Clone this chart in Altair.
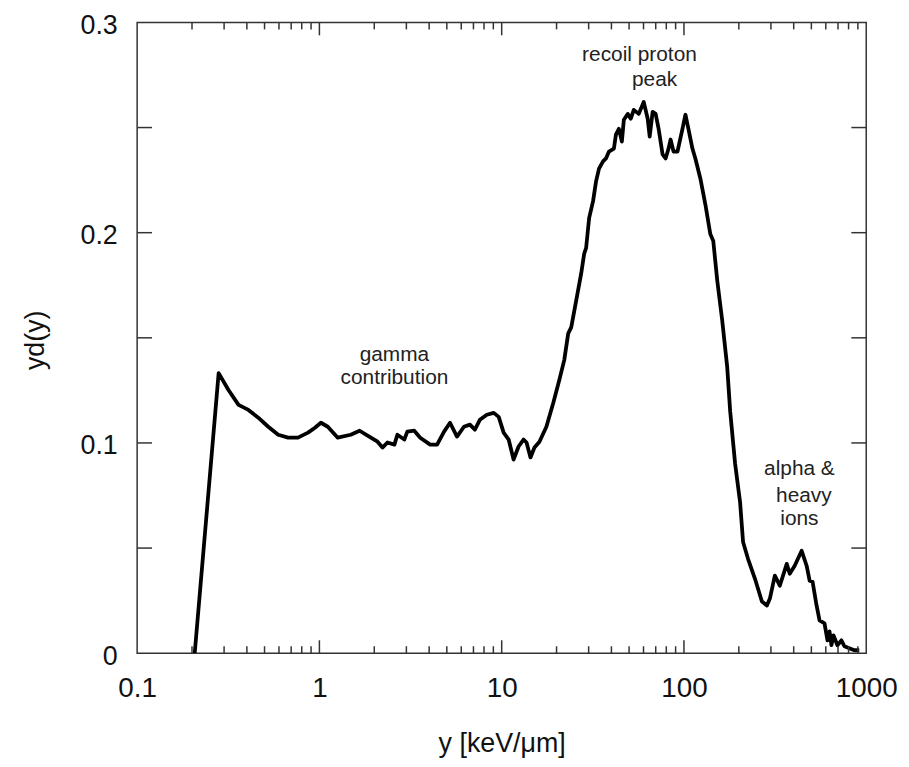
import altair as alt
import pandas as pd

# lineal energy y [keV/um]
y_lineal = [
    0.207, 0.280, 0.317, 0.360, 0.408, 0.462, 0.524, 0.594, 0.673, 0.763,
    0.866, 0.945, 1.019, 1.112, 1.261, 1.485, 1.662, 1.838, 2.084, 2.218,
    2.362, 2.579, 2.678, 2.923, 3.036, 3.314, 3.573, 4.052, 4.424, 4.829,
    5.207, 5.686, 6.209, 6.694, 7.128, 7.590, 8.287, 9.046, 9.632, 10.25,
    10.92, 11.62, 12.38, 13.18, 13.69, 14.39, 15.13, 16.11, 17.59, 19.20,
    20.71, 22.04, 23.18, 24.07, 25.63, 27.29, 28.34, 29.06, 30.18, 31.72,
    32.94, 34.20, 35.96, 37.34, 38.77, 41.28, 42.33, 43.96, 45.64, 46.80,
    49.21, 51.09, 53.05, 56.49, 60.15, 63.25, 64.86, 67.34, 69.93, 72.61,
    76.35, 79.29, 82.32, 84.42, 87.66, 92.17, 98.13, 101.9, 105.8, 111.3,
    115.5, 123.0, 131.0, 139.5, 144.8, 152.3, 162.1, 172.7, 179.3, 190.9,
    203.2, 211.0, 224.6, 245.3, 267.7, 285.1, 296.1, 315.2, 335.6, 366.4,
    380.5, 405.1, 442.3, 471.0, 489.1, 507.8, 534.0, 554.4, 590.3, 613.0,
    628.5, 644.5, 660.8, 695.0, 730.8, 759.0, 807.9, 860.3, 915.9,
]
# y d(y)
yd_values = [
    0.0, 0.1332, 0.1252, 0.1181, 0.1157, 0.1120, 0.1077, 0.1039, 0.1025, 0.1025,
    0.1049, 0.1072, 0.1096, 0.1077, 0.1025, 0.1039, 0.1058, 0.1035, 0.1006, 0.0978,
    0.1002, 0.0992, 0.1039, 0.1016, 0.1054, 0.1058, 0.1025, 0.0992, 0.0992, 0.1054,
    0.1096, 0.1030, 0.1077, 0.1087, 0.1063, 0.1110, 0.1134, 0.1143, 0.1124, 0.1049,
    0.1016, 0.0921, 0.0983, 0.1016, 0.1002, 0.0931, 0.0978, 0.1006, 0.1077, 0.1191,
    0.1299, 0.1394, 0.1521, 0.1550, 0.1677, 0.1805, 0.1899, 0.1928, 0.2069, 0.2150,
    0.2244, 0.2305, 0.2339, 0.2353, 0.2386, 0.2400, 0.2466, 0.2494, 0.2433, 0.2537,
    0.2565, 0.2542, 0.2584, 0.2565, 0.2622, 0.2542, 0.2457, 0.2575, 0.2565, 0.2494,
    0.2372, 0.2353, 0.2400, 0.2443, 0.2386, 0.2386, 0.2494, 0.2561, 0.2494, 0.2400,
    0.2353, 0.2258, 0.2135, 0.1994, 0.1961, 0.1772, 0.1583, 0.1361, 0.1150, 0.0900,
    0.0718, 0.0529, 0.0449, 0.0354, 0.0246, 0.0227, 0.0260, 0.0369, 0.0321, 0.0425,
    0.0378, 0.0416, 0.0487, 0.0416, 0.0345, 0.0340, 0.0227, 0.0156, 0.0142, 0.0061,
    0.0104, 0.0038, 0.0085, 0.0038, 0.0061, 0.0033, 0.0024, 0.0014, 0.0014,
]

x_label_values = [0.1, 1, 10, 100, 1000]
y_label_values = [0.0, 0.1, 0.2, 0.3]
x_major_ticks = [1, 10, 100]
x_minor_ticks = [k * 10.0 ** d for d in (-1, 0, 1, 2) for k in range(2, 10)]
y_ticks = [0.05, 0.1, 0.15, 0.2, 0.25]

ann_text = ["gamma", "contribution", "recoil proton", "peak", "alpha &", "heavy", "ions"]
ann_x = [2.58, 2.58, 57.0, 69.0, 430.0, 455.0, 430.0]
ann_y = [0.1417, 0.1308, 0.2845, 0.2726, 0.0874, 0.0747, 0.0638]

W, H = 734, 635
FONT = "Liberation Sans"
FRAME = "#333333"

df = pd.DataFrame({"y": y_lineal, "yd": yd_values, "i": list(range(len(y_lineal)))})
ann = pd.DataFrame({"x": ann_x, "y": ann_y, "t": ann_text})
xmaj = pd.DataFrame({"t": x_major_ticks})
xmin = pd.DataFrame({"t": x_minor_ticks})
yt = pd.DataFrame({"t": y_ticks})

xscale = alt.Scale(type="log", domain=[0.1, 1000], nice=False)
yscale = alt.Scale(domain=[0, 0.3], nice=False, zero=False)

x_axis = alt.Axis(
    title="y [keV/μm]", values=x_label_values, format="~g",
    ticks=False, tickSize=0, domain=False, grid=False,
    labelFont=FONT, labelFontSize=28, labelColor="#111", labelPadding=22,
    labelFlush=False, labelOverlap=False,
    titleFont=FONT, titleFontSize=27, titleFontWeight="normal", titleColor="#111",
    titleX=W / 2, titleY=91, titleBaseline="middle", titleAlign="center",
)
y_axis = alt.Axis(
    title="yd(y)", values=y_label_values, format="~g",
    ticks=False, tickSize=0, domain=False, grid=False,
    labelFont=FONT, labelFontSize=27, labelColor="#111", labelPadding=20,
    labelOffset=3, labelFlush=False, labelOverlap=False,
    titleFont=FONT, titleFontSize=27, titleFontWeight="normal", titleColor="#111",
    titleX=-102, titleY=H / 2 + 2, titleAngle=-90, titleBaseline="middle", titleAlign="center",
)

line = alt.Chart(df).mark_line(
    color="black", strokeWidth=3.8, strokeJoin="round", clip=True
).encode(
    x=alt.X("y:Q", scale=xscale, axis=x_axis),
    y=alt.Y("yd:Q", scale=yscale, axis=y_axis),
    order="i:Q",
)

def xticks(data, y0, y1):
    return alt.Chart(data).mark_rule(color=FRAME, strokeWidth=1.5).encode(
        x=alt.X("t:Q", scale=xscale, axis=x_axis),
        y=alt.value(y0), y2=alt.value(y1),
    )

def yticks(x0, x1):
    return alt.Chart(yt).mark_rule(color=FRAME, strokeWidth=1.5).encode(
        y=alt.Y("t:Q", scale=yscale, axis=y_axis),
        x=alt.value(x0), x2=alt.value(x1),
    )

ticks = [
    xticks(xmin, H, H - 7), xticks(xmin, 0, 7),
    xticks(xmaj, H, H - 13), xticks(xmaj, 0, 13),
    yticks(0, 15), yticks(W - 15, W),
]

labels = alt.Chart(ann).mark_text(
    font=FONT, fontSize=21, color="#222", align="center", baseline="middle"
).encode(
    x=alt.X("x:Q", scale=xscale, axis=x_axis),
    y=alt.Y("y:Q", scale=yscale, axis=y_axis),
    text="t:N",
)

chart = alt.layer(line, *ticks, labels).properties(
    width=W, height=H,
    autosize=alt.AutoSizeParams(type="none"),
    padding={"left": 130, "top": 12, "right": 35, "bottom": 105},
).configure(
    background="white"
).configure_view(
    stroke=FRAME, strokeWidth=1.5
)

chart.save("out.html", embed_options={"renderer": "svg", "actions": False})
